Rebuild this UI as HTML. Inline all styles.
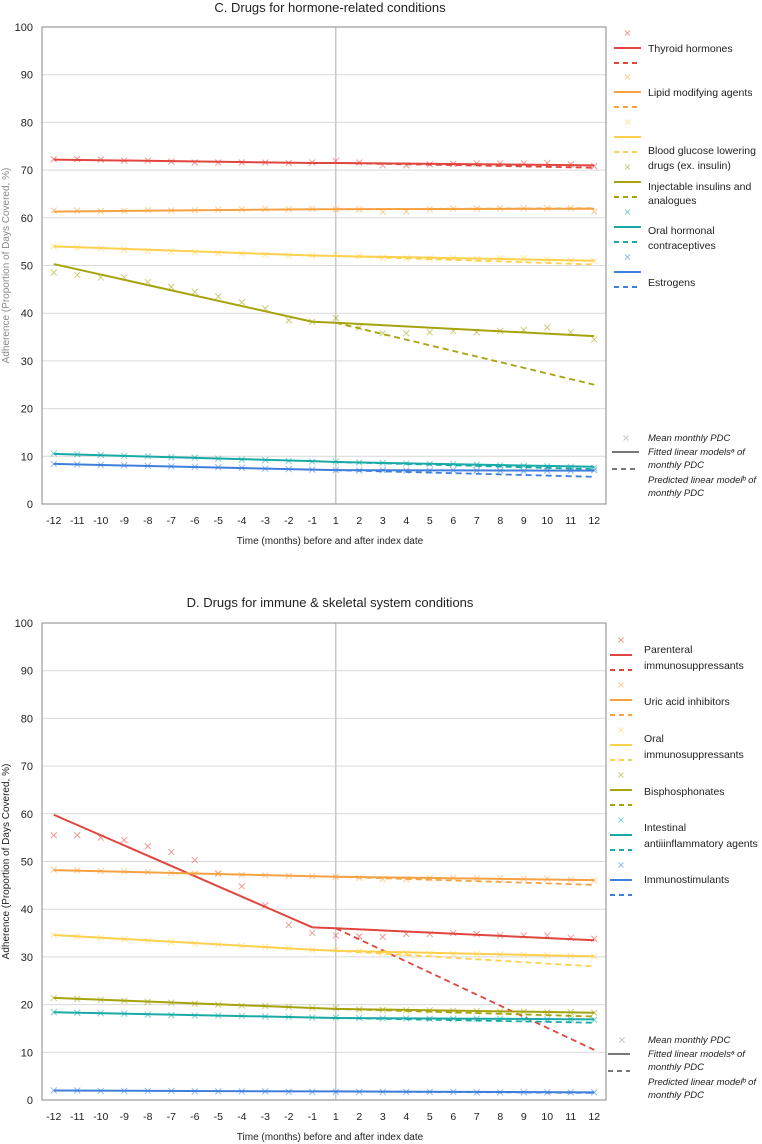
<!DOCTYPE html>
<html><head><meta charset="utf-8">
<style>
html,body{margin:0;padding:0;background:#fff;}
svg{display:block;font-family:"Liberation Sans",sans-serif;}
</style></head>
<body>
<svg id="svg" width="762" height="1144" viewBox="0 0 762 1144" xmlns="http://www.w3.org/2000/svg"></svg>
<script>
// ---- shared categories / ticks ----
const categories = ["-12","-11","-10","-9","-8","-7","-6","-5","-4","-3","-2","-1","1","2","3","4","5","6","7","8","9","10","11","12"];
const yTicks = [0,10,20,30,40,50,60,70,80,90,100];

// ---- Chart C data ----
const cNames = ["Thyroid hormones","Lipid modifying agents","Blood glucose lowering drugs (ex. insulin)","Injectable insulins and analogues","Oral hormonal contraceptives","Estrogens"];
const cThyroid = [72.3,72.3,72.2,72.0,72.0,71.8,71.6,71.6,71.6,71.6,71.5,71.6,71.9,71.6,71.0,71.0,71.2,71.3,71.4,71.4,71.4,71.5,71.2,70.8];
const cLipid = [61.5,61.5,61.4,61.4,61.6,61.5,61.6,61.7,61.8,61.9,61.8,61.9,61.8,61.8,61.2,61.3,61.8,61.9,61.9,62.0,62.0,62.0,62.0,61.3];
const cGlucose = [54.0,53.8,53.6,53.3,53.1,52.9,52.8,52.6,52.5,52.3,52.1,52.1,52.3,52.0,51.6,51.5,51.5,51.5,51.4,51.5,51.5,51.2,51.0,51.0];
const cInsulin = [48.5,48.0,47.5,47.5,46.5,45.5,44.5,43.5,42.3,41.0,38.5,38.2,39.0,37.0,35.8,35.8,36.0,36.2,36.0,36.3,36.5,37.0,36.0,34.5];
const cContra = [10.6,10.4,10.3,10.1,10.0,9.8,9.7,9.5,9.3,9.2,9.0,8.9,8.9,8.7,8.6,8.5,8.4,8.4,8.2,8.1,8.0,7.9,7.8,7.6];
const cEstro = [8.4,8.3,8.2,8.1,8.0,7.9,7.8,7.7,7.6,7.4,7.3,7.2,7.1,7.0,7.1,7.0,7.0,7.1,7.0,7.0,6.9,7.0,7.0,7.1];
// fitted pre [start,end], post [start,end], predicted end
const cFitPre = [[72.2,71.5],[61.3,61.8],[54.0,52.1],[50.3,38.2],[10.5,9.0],[8.4,7.2]];
const cFitPost = [[71.5,71.0],[61.8,61.9],[52.0,51.0],[38.0,35.2],[8.8,7.8],[7.1,7.0]];
const cPredEnd = [70.5,62.0,50.2,25.0,7.3,5.7];

// ---- Chart D data ----
const dNames = ["Parenteral immunosuppressants","Uric acid inhibitors","Oral immunosuppressants","Bisphosphonates","Intestinal antiiinflammatory agents","Immunostimulants"];
const dParent = [55.5,55.5,55.0,54.5,53.2,52.0,50.3,47.5,44.8,40.8,36.7,35.0,34.5,34.3,34.2,34.8,34.8,35.0,34.8,34.5,34.5,34.5,34.0,33.8];
const dUric = [48.3,48.2,48.0,47.9,47.8,47.6,47.5,47.4,47.2,47.1,47.0,46.9,46.8,46.6,46.3,46.3,46.5,46.6,46.5,46.5,46.4,46.4,46.2,46.0];
const dOral = [34.6,34.3,34.0,33.7,33.4,33.1,32.8,32.6,32.3,32.1,31.8,31.5,31.5,31.2,30.9,30.8,30.7,30.6,30.6,30.5,30.4,30.3,30.2,30.1];
const dBisph = [21.4,21.2,21.0,20.8,20.6,20.4,20.2,20.0,19.8,19.7,19.5,19.3,19.3,19.0,18.9,18.8,18.8,18.7,18.6,18.5,18.5,18.4,18.4,18.3];
const dIntest = [18.4,18.3,18.2,18.1,17.9,17.8,17.7,17.7,17.6,17.5,17.4,17.3,17.3,17.2,17.1,17.1,17.0,17.0,17.0,17.0,16.9,16.9,16.9,16.8];
const dImmuno = [2.0,2.0,1.9,1.9,1.9,1.9,1.8,1.8,1.8,1.8,1.7,1.7,1.7,1.7,1.7,1.7,1.7,1.7,1.6,1.6,1.6,1.6,1.6,1.6];
const dFitPre = [[59.8,36.2],[48.2,46.9],[34.6,31.5],[21.4,19.3],[18.4,17.3],[2.0,1.8]];
const dFitPost = [[36.0,33.5],[46.8,46.1],[31.3,30.1],[19.1,18.3],[17.2,16.9],[1.8,1.6]];
const dPredEnd = [10.5,45.1,28.0,17.5,16.2,1.5];

const colors = ["#e0463e","#f5a243","#fdd04e","#a6a30c","#18aaa6","#3e7fdc"];
const NS = "http://www.w3.org/2000/svg";
const svg = document.getElementById('svg');
function mk(tag, attrs, parent, text){
  const e = document.createElementNS(NS, tag);
  for (const k in attrs) e.setAttribute(k, attrs[k]);
  if (text !== undefined) e.textContent = text;
  (parent||svg).appendChild(e);
  return e;
}
function cross(g, x, y, col, s){
  const p = mk('path', {d:`M${x-s},${y-s}L${x+s},${y+s}M${x-s},${y+s}L${x+s},${y-s}`, stroke:col, 'stroke-width':1, 'stroke-opacity':0.55, fill:'none'}, g);
  return p;
}

function drawChart(cfg){
  const L=42, R=606, T=cfg.top, B=cfg.top+477;
  const step=(R-L)/categories.length;
  const xs = i => L + step*(i+0.5);
  const ys = v => B - (v/100)*(B-T);
  const g = mk('g', {});
  
  
  const title = mk('text', {x:330, y:cfg.titleY, 'text-anchor':'middle', 'font-size':13, fill:'#222'}, g, cfg.title);
  
  
  // grid
  yTicks.forEach(t=>{
    const gl = mk('line', {x1:L, x2:R, y1:ys(t), y2:ys(t), stroke:'#d9d9d9', 'stroke-width':1}, g);
    
    
    const tl = mk('text', {x:33, y:ys(t)+4, 'text-anchor':'end', 'font-size':11, fill:'#222'}, g, t);
    
    
  });
  const vl = mk('line', {x1:xs(12), x2:xs(12), y1:T, y2:B, stroke:'#c8c8c8', 'stroke-width':1.5}, g);
  
  
  const frame = mk('rect', {x:L, y:T, width:R-L, height:B-T, fill:'none', stroke:'#9a9a9a', 'stroke-width':1.2}, g);
  
  
  categories.forEach((c,i)=>{
    const xl = mk('text', {x:xs(i), y:B+20, 'text-anchor':'middle', 'font-size':10.5, fill:'#222'}, g, c);
    
    
  });
  const xt = mk('text', {x:330, y:B+40, 'text-anchor':'middle', 'font-size':10, fill:'#222'}, g, 'Time (months) before and after index date');
  
  
  const yt = mk('text', {x:0, y:0, 'text-anchor':'middle', 'font-size':10, fill:cfg.ytColor, transform:`translate(9,${(T+B)/2}) rotate(-90)`}, g, 'Adherence (Proportion of Days Covered, %)');
  
  
  // series
  cfg.series.forEach((vals, k)=>{
    const col = colors[k];
    const sg = mk('g', {}, g);
    
    
    vals.forEach((v,i)=>{
      const m = cross(sg, xs(i), ys(v), col, 3);
      
      
    });
    const pre = cfg.fitPre[k], post = cfg.fitPost[k];
    const pr = mk('line', {x1:xs(12), y1:ys(post[0]), x2:xs(23), y2:ys(cfg.predEnd[k]), stroke:col, 'stroke-width':1.8, 'stroke-dasharray':'6,4'}, sg);
    
    
    const f1 = mk('line', {x1:xs(0), y1:ys(pre[0]), x2:xs(11), y2:ys(pre[1]), stroke:col, 'stroke-width':2}, sg);
    
    
    const f2 = mk('line', {x1:xs(11), y1:ys(pre[1]), x2:xs(12), y2:ys(post[0]), stroke:col, 'stroke-width':2}, sg);
    
    
    const f3 = mk('line', {x1:xs(12), y1:ys(post[0]), x2:xs(23), y2:ys(post[1]), stroke:col, 'stroke-width':2}, sg);
    
    
  });
  // legend
  const lg = mk('g', {}, g);
  
  
  cfg.legend.forEach((e,k)=>{
    const col = colors[k];
    const mm = cross(lg, cfg.lx0+ (cfg.lx1-cfg.lx0)/2, e.m, col, 2.5);
    
    
    const ls = mk('line', {x1:cfg.lx0, x2:cfg.lx1, y1:e.m+15, y2:e.m+15, stroke:col, 'stroke-width':2}, lg);
    
    
    const ld = mk('line', {x1:cfg.lx0, x2:cfg.lx1, y1:e.m+30, y2:e.m+30, stroke:col, 'stroke-width':2, 'stroke-dasharray':'5,4'}, lg);
    
    
    e.t.forEach((line,j)=>{
      const tx = mk('text', {x:cfg.tx, y:line[1]+4, 'font-size':10.5, fill:'#222'}, lg, line[0]);
      
      
    });
  });
  // generic legend
  const gy = cfg.gy;
  const gm = cross(lg, cfg.lx0+12, gy, '#999', 2.5);
  
  
  const gs = mk('line', {x1:cfg.lx0-2, x2:cfg.lx1-2, y1:gy+14, y2:gy+14, stroke:'#777', 'stroke-width':2}, lg);
  
  
  const gd = mk('line', {x1:cfg.lx0-2, x2:cfg.lx1-2, y1:gy+31, y2:gy+31, stroke:'#777', 'stroke-width':2, 'stroke-dasharray':'5,4'}, lg);
  
  
  const gt = [["Mean monthly PDC",0],["Fitted linear models\u1D43 of",14],["monthly PDC",27],["Predicted linear model\u1D47 of",42],["monthly PDC",55]];
  gt.forEach(t=>{
    const tx = mk('text', {x:648, y:gy+t[1]+3, 'font-size':9.5, 'font-style':'italic', fill:'#222'}, lg, t[0]);
    
    
  });
}

drawChart({key:'c', top:27, titleY:12, title:'C. Drugs for hormone-related conditions', ytColor:'#8a8a8a',
  names:cNames, series:[cThyroid,cLipid,cGlucose,cInsulin,cContra,cEstro],
  fitPre:cFitPre, fitPost:cFitPost, predEnd:cPredEnd,
  lx0:614, lx1:641, tx:648, gy:438,
  legend:[
    {m:33, t:[["Thyroid hormones",48]]},
    {m:77, t:[["Lipid modifying agents",92]]},
    {m:122, t:[["Blood glucose lowering",150],["drugs (ex. insulin)",165]]},
    {m:167, t:[["Injectable insulins and",186],["analogues",200]]},
    {m:212, t:[["Oral hormonal",230],["contraceptives",245]]},
    {m:257, t:[["Estrogens",282]]}
  ]});
drawChart({key:'d', top:623, titleY:607, title:'D. Drugs for immune & skeletal system conditions', ytColor:'#222',
  names:dNames, series:[dParent,dUric,dOral,dBisph,dIntest,dImmuno],
  fitPre:dFitPre, fitPost:dFitPost, predEnd:dPredEnd,
  lx0:610, lx1:632, tx:644, gy:1040,
  legend:[
    {m:640, t:[["Parenteral",649],["immunosuppressants",665]]},
    {m:685, t:[["Uric acid inhibitors",701]]},
    {m:730, t:[["Oral",738],["immunosuppressants",754]]},
    {m:775, t:[["Bisphosphonates",791]]},
    {m:820, t:[["Intestinal",827],["antiiinflammatory agents",843]]},
    {m:865, t:[["Immunostimulants",879]]}
  ]});
</script>
</body></html>
